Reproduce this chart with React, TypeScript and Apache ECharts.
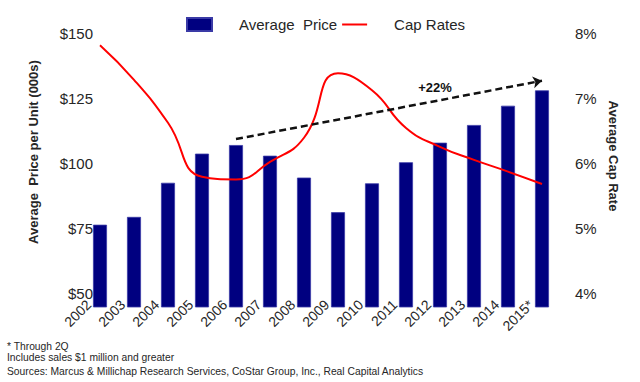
import React, { useEffect, useRef } from "react";
import * as echarts from "echarts";

const years = ["2002", "2003", "2004", "2005", "2006", "2007", "2008", "2009", "2010", "2011", "2012", "2013", "2014", "2015*"];
const avgPrice = [76.6, 79.6, 92.7, 103.9, 107.2, 103.1, 94.7, 81.4, 92.5, 100.6, 108.1, 114.9, 122.3, 128.2];
const capRates = [7.82, 7.29, 6.63, 5.8, 5.76, 6.03, 6.4, 7.39, 7.13, 6.55, 6.26, 6.06, 5.88, 5.69];
const priceTicks = [50, 75, 100, 125, 150];
const rateTicks = [4, 5, 6, 7, 8];
const trendStart = ["2006", 109.5];
const trendEnd = ["2015*", 131.9];
const trendLabel = "+22%";
const footnotes = [
  "* Through 2Q",
  "Includes sales $1 million and greater",
  "Sources: Marcus & Millichap Research Services, CoStar Group, Inc., Real Capital Analytics",
];

const FONT = "'Liberation Sans', Arial, sans-serif";
const TXT = "#262626";

export default function App() {
  const ref = useRef<HTMLDivElement>(null);
  useEffect(() => {
    const chart = echarts.init(ref.current!, null, { renderer: "svg" });
    chart.setOption({
      animation: false,
      backgroundColor: "#ffffff",
      textStyle: { fontFamily: FONT },
      legend: {
        left: 181,
        top: 12,
        itemWidth: 25,
        itemHeight: 13,
        itemGap: 4,
        textStyle: { fontSize: 15, color: TXT, fontFamily: FONT, padding: [0, 0, 0, 22] },
        data: [
          { name: "Average  Price", icon: "rect" },
          { name: "Cap Rates", itemStyle: { opacity: 0, color: "transparent", borderWidth: 0 } },
        ],
      },
      grid: { left: 83, right: 81, top: 33.6, bottom: 75, containLabel: false },
      xAxis: {
        type: "category",
        data: years,
        axisLine: { show: false },
        axisTick: { show: false },
        axisLabel: {
          interval: 0,
          rotate: 45,
          fontSize: 14,
          color: TXT,
          fontFamily: FONT,
          margin: -16,
          padding: [0, 16, 0, 0],
        },
      },
      yAxis: [
        {
          type: "value",
          min: 45,
          max: 150,
          interval: 5,
          splitLine: { show: false },
          axisLine: { show: false },
          axisTick: { show: false },
          axisLabel: {
            fontSize: 15,
            color: TXT,
            fontFamily: FONT,
            margin: -10,
            formatter: (v: number) => (priceTicks.indexOf(Math.round(v)) >= 0 && Math.abs(v - Math.round(v)) < 1e-6 ? "$" + Math.round(v) : ""),
          },
        },
        {
          type: "value",
          min: 3.8,
          max: 8,
          interval: 0.2,
          splitLine: { show: false },
          axisLine: { show: false },
          axisTick: { show: false },
          axisLabel: {
            fontSize: 15,
            color: TXT,
            fontFamily: FONT,
            margin: 16,
            formatter: (v: number) => (Math.abs(v - Math.round(v)) < 1e-6 && rateTicks.indexOf(Math.round(v)) >= 0 ? Math.round(v) + "%" : ""),
          },
        },
      ],
      series: [
        {
          name: "Average  Price",
          type: "bar",
          data: avgPrice,
          barWidth: 14,
          itemStyle: { color: "#000080", borderColor: "#3a3aa6", borderWidth: 0.8 },
          markLine: {
            silent: true,
            symbol: ["none", "arrow"],
            symbolSize: [9, 9],
            label: { show: false },
            lineStyle: { color: "#111111", width: 2.5, type: [7, 4] },
            data: [[{ coord: trendStart }, { coord: trendEnd }]],
          },
        },
        {
          name: "Cap Rates",
          type: "line",
          yAxisIndex: 1,
          data: capRates,
          smooth: 0.5,
          symbol: "none",
          showSymbol: false,
          lineStyle: { color: "#ff0000", width: 2 },
          itemStyle: { color: "#ff0000" },
        },
      ],
      graphic: [
        {
          type: "text",
          x: 435,
          y: 87,
          style: { text: trendLabel, font: `bold 13px ${FONT}`, fill: "#111111", textAlign: "center", textVerticalAlign: "middle" },
        },
        {
          type: "text",
          x: 33,
          y: 152,
          rotation: Math.PI / 2,
          style: { text: "Average  Price per Unit (000s)", font: `bold 13px ${FONT}`, fill: TXT, textAlign: "center", textVerticalAlign: "middle" },
        },
        {
          type: "text",
          x: 613,
          y: 156,
          rotation: -Math.PI / 2,
          style: { text: "Average Cap Rate", font: `bold 13px ${FONT}`, fill: TXT, textAlign: "center", textVerticalAlign: "middle" },
        },
        ...footnotes.map((t, i) => ({
          type: "text",
          x: 7,
          y: [346, 357.5, 371][i],
          style: { text: t, font: `10.3px ${FONT}`, fill: TXT, textAlign: "left", textVerticalAlign: "middle" },
        })),
      ],
    });
    return () => chart.dispose();
  }, []);
  return <div ref={ref} style={{ position: "absolute", left: 0, top: 0, width: 640, height: 382 }} />;
}
